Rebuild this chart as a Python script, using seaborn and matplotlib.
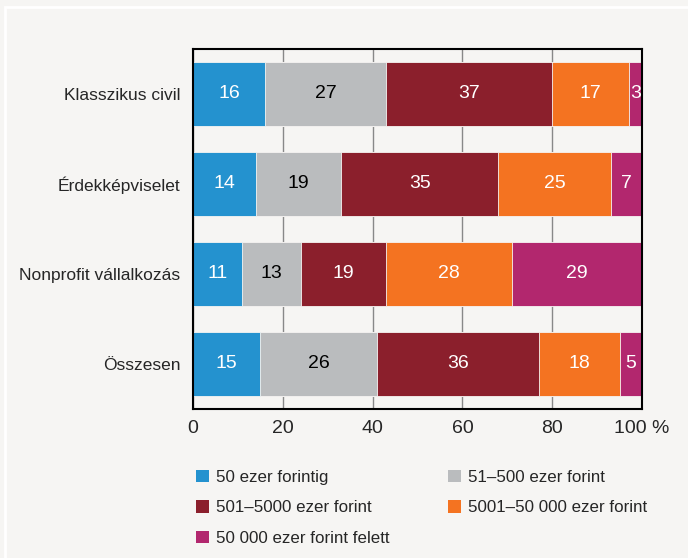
import pandas as pd
import numpy as np
import matplotlib
matplotlib.use("Agg")
import matplotlib.pyplot as plt
import seaborn as sns
from matplotlib.patches import Rectangle, Patch

# data (percent)
categories = ["Klasszikus civil", "Érdekképviselet", "Nonprofit vállalkozás", "Összesen"]
series = ["50 ezer forintig", "51–500 ezer forint", "501–5000 ezer forint",
          "5001–50 000 ezer forint", "50 000 ezer forint felett"]
v_50 = [16, 14, 11, 15]
v_500 = [27, 19, 13, 26]
v_5000 = [37, 35, 19, 36]
v_50000 = [17, 25, 28, 18]
v_over = [3, 7, 29, 5]
colors = ["#2492cf", "#babcbe", "#8b1f2c", "#f47321", "#b2276e"]
text_colors = ["white", "black", "white", "white", "white"]
xticks = [0, 20, 40, 60, 80, 100]
xticklabels = ["0", "20", "40", "60", "80", "100 %"]

sns.set_style("white")
plt.rcParams["font.family"] = ["Liberation Sans", "DejaVu Sans"]

bg = "#f6f5f3"
data = pd.DataFrame({"cat": categories, series[0]: v_50, series[1]: v_500,
                     series[2]: v_5000, series[3]: v_50000, series[4]: v_over})
cum = data[series].cumsum(axis=1)

fig = plt.figure(figsize=(6.88, 5.58), dpi=100, facecolor=bg)
fig.patches.append(Rectangle((5 / 688, -0.1), 1.2, 1 - 7 / 558 + 0.1, transform=fig.transFigure,
                             fill=False, edgecolor="white", lw=2))
ax = fig.add_axes([193 / 688, 1 - 409 / 558, 449 / 688, 360 / 558])
ax.set_facecolor(bg)

# stacked bars: draw cumulative totals from the last series to the first
for s, c in zip(series[::-1], colors[::-1]):
    sns.barplot(x=cum[s], y=data["cat"], orient="h", color=c, width=0.71,
                saturation=1, edgecolor=bg, linewidth=0.6, ax=ax, zorder=2)

for i, s in enumerate(series):
    centers = cum[s] - data[s] / 2
    for j, (xc, v) in enumerate(zip(centers, data[s])):
        ax.text(xc, j, str(v), ha="center", va="center", fontsize=14, color=text_colors[i], zorder=3)

ax.set_xlim(0, 100)
ax.set_ylim(3.5, -0.5)
ax.set_xticks(xticks)
ax.set_xticklabels(xticklabels, fontsize=14)
ax.set_yticks(range(len(categories)))
ax.set_yticklabels(categories, fontsize=12.5)
ax.set_yticks([-0.5, 0.5, 1.5, 2.5, 3.5], minor=True)
ax.tick_params(axis="y", which="major", length=0, pad=9)
ax.tick_params(axis="y", which="minor", length=7, width=1, color="black", direction="out")
ax.tick_params(axis="x", length=6, width=1, color="#777777", direction="in", pad=8)
ax.set_xlabel("")
ax.set_ylabel("")
ax.grid(axis="x", color="#888888", lw=1, zorder=0)
ax.set_axisbelow(True)
for sp in ax.spines.values():
    sp.set_visible(True)
    sp.set_color("black")
    sp.set_linewidth(1.5)

# legend: two columns placed by hand, filled row by row
handles = [Patch(facecolor=c, edgecolor="none") for c in colors]
leg_kw = dict(loc="upper left", frameon=False, fontsize=12.2, handlelength=0.75, handleheight=0.75,
              handletextpad=0.45, labelspacing=0.9, borderaxespad=0, borderpad=0)
left = [0, 2, 4]
right = [1, 3]
fig.legend([handles[k] for k in left], [series[k] for k in left],
           bbox_to_anchor=(196 / 688, 1 - 470 / 558), **leg_kw)
fig.legend([handles[k] for k in right], [series[k] for k in right],
           bbox_to_anchor=(448 / 688, 1 - 470 / 558), **leg_kw)

fig.savefig("out.png", dpi=100, facecolor=bg)
